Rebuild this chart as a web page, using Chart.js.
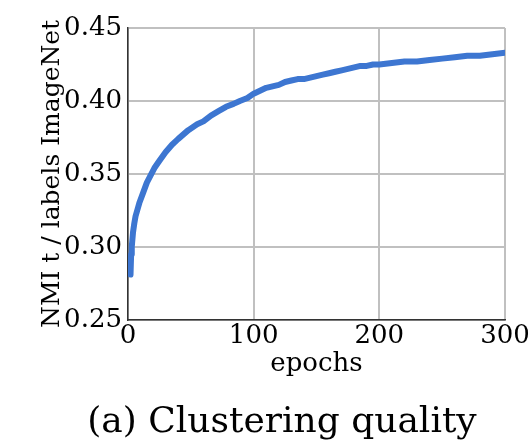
<!DOCTYPE html>
<html>
<head>
<meta charset="utf-8">
<script src="https://cdn.jsdelivr.net/npm/chart.js@4"></script>
<style>
  html, body { margin: 0; padding: 0; background: #fff; overflow: hidden; }
  #wrap { width: 560px; height: 448px; }
</style>
</head>
<body>
<div id="wrap"><canvas id="nmiChart" width="560" height="448"></canvas></div>
<script>
const epochs = [2, 2.5, 3, 4, 5, 6, 8, 9, 12, 15, 18, 21, 25, 30, 35, 40, 48, 55, 60, 66,
                72, 78, 84, 89, 95, 100, 105, 110, 115, 120, 125, 130, 135, 140,
                145, 150, 155, 160, 165, 170, 175, 180, 185, 190, 195, 200, 210, 220, 230,
                240, 250, 260, 270, 280, 290, 300];
const nmi = [0.281, 0.295, 0.300, 0.310, 0.316, 0.321, 0.327, 0.330, 0.337, 0.344, 0.349,
             0.354, 0.359, 0.365, 0.370, 0.374, 0.380, 0.384, 0.386, 0.390, 0.393, 0.396,
             0.398, 0.400, 0.402, 0.405, 0.407, 0.409, 0.410, 0.411,
             0.413, 0.414, 0.415, 0.415, 0.416, 0.417, 0.418, 0.419, 0.420, 0.421, 0.422,
             0.423, 0.424, 0.424, 0.425, 0.425, 0.426, 0.427, 0.427, 0.428, 0.429, 0.430,
             0.431, 0.431, 0.432, 0.433];
const xTicks = [0, 100, 200, 300];
const yTicks = [0.25, 0.30, 0.35, 0.40, 0.45];

const serif = 'DejaVu Serif';

// caption is centred on the whole figure, not on the plot
const captionShift = {
    id: 'captionShift',
    afterLayout(chart) {
        if (chart.titleBlock) {
            chart.titleBlock.left = 0;
            chart.titleBlock.right = 564;
        }
    }
};

const ctx = document.getElementById('nmiChart').getContext('2d');
const nmiChart = new Chart(ctx, {
    type: 'line',
    data: {
        datasets: [{
            data: epochs.map((e, i) => ({ x: e, y: nmi[i] })),
            borderColor: '#3d76d1',
            borderWidth: 6,
            borderCapStyle: 'round',
            borderJoinStyle: 'round',
            pointRadius: 0,
            tension: 0,
            fill: false
        }]
    },
    options: {
        responsive: false,
        animation: false,
        layout: { padding: { left: 0, right: 55, top: 28, bottom: 0 } },
        plugins: {
            legend: { display: false },
            tooltip: { enabled: false },
            title: {
                display: true,
                position: 'bottom',
                text: '(a) Clustering quality',
                color: '#000',
                font: { family: serif, size: 36, weight: 'normal' },
                padding: { top: 16, bottom: 4 }
            }
        },
        scales: {
            x: {
                type: 'linear',
                min: 0, max: 300,
                afterBuildTicks: s => { s.ticks = xTicks.map(v => ({ value: v })); },
                afterFit: s => { s.height = 65; },
                ticks: { color: '#000', font: { family: serif, size: 26 }, padding: 1, maxRotation: 0 },
                grid: { color: '#c0c0c0', lineWidth: 2, drawTicks: false },
                border: { color: '#333', width: 1.5 },
                title: {
                    display: true, text: 'epochs', color: '#000',
                    font: { family: serif, size: 26 }, padding: { top: 0, bottom: 5 }
                }
            },
            y: {
                min: 0.25, max: 0.45,
                afterBuildTicks: s => { s.ticks = yTicks.map(v => ({ value: v })); },
                afterFit: s => { s.width = 128; },
                ticks: {
                    color: '#000', font: { family: serif, size: 26 }, padding: 6,
                    callback: v => v.toFixed(2)
                },
                grid: { color: '#c0c0c0', lineWidth: 2, drawTicks: false },
                border: { color: '#333', width: 1.5 },
                title: {
                    display: true, text: 'NMI t / labels ImageNet', color: '#000',
                    font: { family: serif, size: 25 }, padding: { top: 37, bottom: 0 }
                }
            }
        }
    },
    plugins: [captionShift]
});
</script>
</body>
</html>
